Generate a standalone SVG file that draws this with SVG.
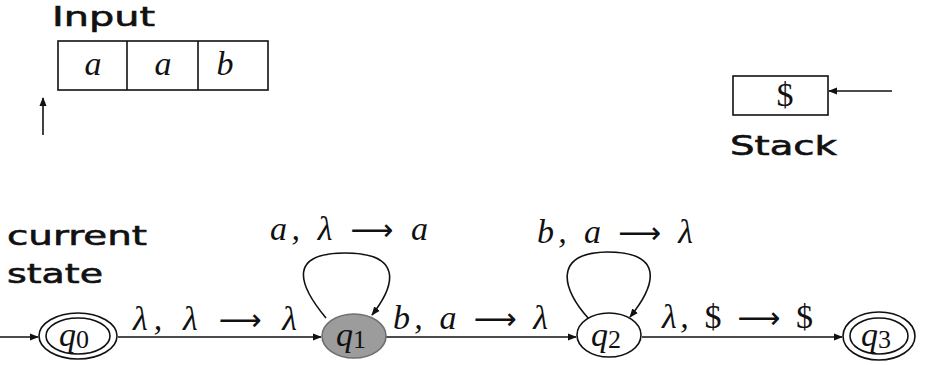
<svg xmlns="http://www.w3.org/2000/svg" width="926" height="365" viewBox="0 0 926 365">
<style>
.t{font-family:"DejaVu Sans","Liberation Sans",sans-serif;font-size:27px;font-weight:normal;fill:#111;stroke:#111;stroke-width:0.6}
.m{font-family:"Liberation Serif","DejaVu Serif",serif;font-style:italic;font-size:34px;fill:#111}
.d{font-family:"Liberation Serif","DejaVu Serif",serif;font-style:normal}
.ar{font-family:"DejaVu Sans",sans-serif;font-style:normal;font-size:30px}
.box{fill:#fff;stroke:#111;stroke-width:1.6}
.ln{fill:none;stroke:#111;stroke-width:1.6}
.st{fill:#fff;stroke:#111;stroke-width:1.6}
</style>
<defs>
<marker id="ah" viewBox="0 0 10 10" refX="9" refY="5" markerWidth="9" markerHeight="9" markerUnits="userSpaceOnUse" orient="auto">
<path d="M0,1 L10,5 L0,9 z" fill="#111"/>
</marker>
</defs>
<rect width="926" height="365" fill="#fff"/>

<g id="input">
<text class="t" x="52" y="26" textLength="103" lengthAdjust="spacingAndGlyphs">Input</text>
<rect class="box" x="58" y="41" width="210" height="49"/>
<line class="ln" x1="127" y1="41" x2="127" y2="90"/>
<line class="ln" x1="198" y1="41" x2="198" y2="90"/>
<text class="m" x="93" y="75" text-anchor="middle">a</text>
<text class="m" x="163" y="75" text-anchor="middle">a</text>
<text class="m" x="225" y="75" text-anchor="middle">b</text>
</g>

<g id="stack">
<rect class="box" x="733" y="76" width="95" height="39"/>
<text class="m d" x="785" y="106" text-anchor="middle" font-size="28">$</text>
<text class="t" x="730" y="155" textLength="107" lengthAdjust="spacingAndGlyphs">Stack</text>
</g>

<g id="current-label">
<text class="t" x="7" y="245" textLength="140" lengthAdjust="spacingAndGlyphs">current</text>
<text class="t" x="7" y="283" textLength="96" lengthAdjust="spacingAndGlyphs">state</text>
</g>

<g id="connectors">
<line class="ln" x1="43" y1="135" x2="43" y2="98" marker-end="url(#ah)"/>
<line class="ln" x1="892" y1="91" x2="829" y2="91" marker-end="url(#ah)"/>
<line class="ln" x1="0" y1="337" x2="38" y2="337" marker-end="url(#ah)"/>
<line class="ln" x1="118" y1="337" x2="321" y2="337" marker-end="url(#ah)"/>
<path class="ln" d="M326,318 C296,282 290,253 345,253 C400,253 398,282 372,315" marker-end="url(#ah)"/>
<line class="ln" x1="386" y1="337" x2="576" y2="337" marker-end="url(#ah)"/>
<path class="ln" d="M589,319 C562,290 552,253 607,252 C660,252 660,280 630,317" marker-end="url(#ah)"/>
<line class="ln" x1="642" y1="337" x2="842" y2="337" marker-end="url(#ah)"/>
<text class="m" x="133" y="330" textLength="164" lengthAdjust="spacing">λ, λ <tspan class="ar">⟶</tspan> λ</text>
<text class="m" x="270" y="240" textLength="158" lengthAdjust="spacing">a, λ <tspan class="ar">⟶</tspan> a</text>
<text class="m" x="393" y="329" textLength="155" lengthAdjust="spacing">b, a <tspan class="ar">⟶</tspan> λ</text>
<text class="m" x="537" y="243" textLength="156" lengthAdjust="spacing">b, a <tspan class="ar">⟶</tspan> λ</text>
<text class="m" x="662" y="328" textLength="151" lengthAdjust="spacing">λ, <tspan class="d">$</tspan> <tspan class="ar">⟶</tspan> <tspan class="d">$</tspan></text>
</g>

<g id="q0">
<ellipse class="st" cx="78" cy="336" rx="39" ry="23"/>
<ellipse class="st" cx="78" cy="336" rx="32" ry="18"/>
<text class="m" x="59" y="346" font-size="34">q<tspan font-size="26" dy="2" font-style="normal">0</tspan></text>
</g>

<g id="q1">
<ellipse cx="354" cy="336" rx="32" ry="22" fill="#9c9c9c" stroke="#6e6e6e" stroke-width="1.6"/>
<text class="m" x="336" y="346" font-size="34" fill="#555">q<tspan font-size="26" dy="2" font-style="normal">1</tspan></text>
</g>

<g id="q2">
<ellipse class="st" cx="609" cy="335" rx="32" ry="22"/>
<text class="m" x="591" y="346" font-size="34">q<tspan font-size="26" dy="2" font-style="normal">2</tspan></text>
</g>

<g id="q3">
<ellipse class="st" cx="879" cy="336" rx="36" ry="24"/>
<ellipse class="st" cx="879" cy="336" rx="29" ry="18"/>
<text class="m" x="861" y="346" font-size="34">q<tspan font-size="26" dy="2" font-style="normal">3</tspan></text>
</g>
</svg>
